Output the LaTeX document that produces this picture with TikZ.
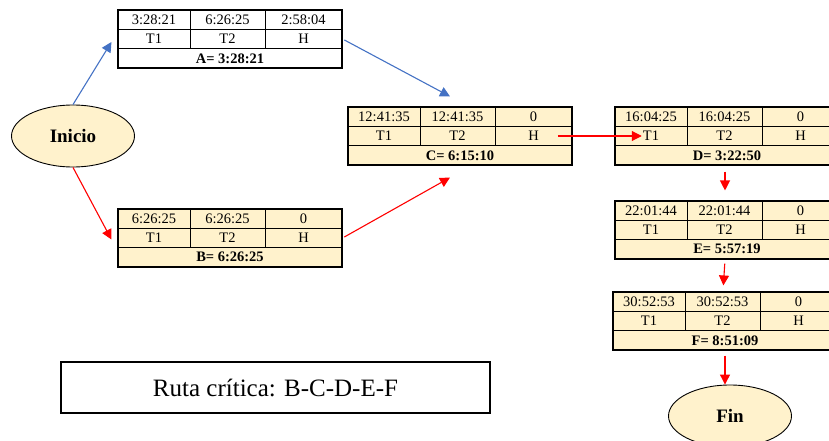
\documentclass[tikz,border=0pt]{standalone}
\usepackage{fontspec}
\setmainfont{Liberation Serif}
\usetikzlibrary{arrows.meta,shapes.geometric}

\definecolor{crema}{HTML}{FFF2CC}
\definecolor{azul}{HTML}{4472C4}

\begin{document}
\begin{tikzpicture}[x=1pt, y=-1pt,
    caja/.style={draw, line width=1.1pt, minimum width=224pt, minimum height=58pt, inner sep=0pt},
    celda/.style={inner sep=1pt, font=\fontsize{14.5}{16}\selectfont},
    inicfin/.style={ellipse, draw, line width=0.9pt, fill=crema, minimum width=123pt, minimum height=62pt, font=\fontsize{19}{22}\selectfont\bfseries},
    flecha/.style={line width=1.1pt, -{Triangle[length=10pt,width=10pt]}},
    roja/.style={flecha, red},
    azulf/.style={flecha, azul}]
    \useasboundingbox (0,0) rectangle (829,441);
    \clip (0,0) rectangle (829,441);

    % Inicio y Fin
    \node[inicfin] (inicio) at (73,136) {Inicio};
    \node[inicfin] (fin) at (730,416) {Fin};

    % Tablas de actividades
    \foreach \n/\x/\y/\a/\b/\c/\l/\f in {
        A/118/10/3:28:21/6:26:25/2:58:04/A= 3:28:21/white,
        B/118/209/6:26:25/6:26:25/0/B= 6:26:25/crema,
        C/348/107/12:41:35/12:41:35/0/C= 6:15:10/crema,
        D/615/107/16:04:25/16:04:25/0/D= 3:22:50/crema,
        E/615/201/22:01:44/22:01:44/0/E= 5:57:19/crema,
        F/613/292/30:52:53/30:52:53/0/F= 8:51:09/crema}{
        \node[caja, fill=\f] (\n) at ({\x+112},{\y+29}) {};
        \draw[line width=0.9pt] (\x,{\y+19.3}) -- ({\x+224},{\y+19.3})
            (\x,{\y+38.6}) -- ({\x+224},{\y+38.6})
            ({\x+72},\y) -- ({\x+72},{\y+38.6})
            ({\x+147},\y) -- ({\x+147},{\y+38.6});
        \node[celda] (\n-a) at ({\x+36},{\y+9.65}) {\a};
        \node[celda] (\n-b) at ({\x+109.5},{\y+9.65}) {\b};
        \node[celda] (\n-c) at ({\x+185.5},{\y+9.65}) {\c};
        \node[celda] (\n-t1) at ({\x+36},{\y+29}) {T1};
        \node[celda] (\n-t2) at ({\x+109.5},{\y+29}) {T2};
        \node[celda] (\n-h) at ({\x+185.5},{\y+29}) {H};
        \node[celda, font=\fontsize{14.5}{16}\selectfont\bfseries] (\n-l) at ({\x+112},{\y+48.3}) {\l};
    }

    % Ruta critica
    \node[draw, line width=1.1pt, minimum width=429pt, minimum height=51pt,
        font=\fontsize{25}{28}\selectfont] (ruta) at (275.5,387.5) {Ruta crítica: B-C-D-E-F};

    % Conexiones
    \draw[azulf] (inicio.north) -- ([xshift=-6pt,yshift=-3pt]A.west);
    \draw[roja] (inicio.south) -- ([xshift=-6pt,yshift=-1.5pt]B.west);
    \draw[azulf, shorten <=2pt] (A.east) -- ([xshift=-10pt,yshift=10pt]C.north);
    \draw[roja, shorten <=2pt] (B.east) -- ([xshift=-10pt,yshift=-12pt]C.south);
    \draw[roja] ([xshift=18pt]C-h.east) -- (D-t1.west);
    \draw[roja, shorten <=6pt, shorten >=10pt] ([xshift=-2pt]D.south) -- ([xshift=-2pt]E.north);
    \draw[roja, shorten <=4pt, shorten >=6pt] ([xshift=-2pt]E.south) -- ([xshift=-2pt]F.north);
    \draw[roja, shorten <=5pt] (F.south) -- (F.south |- fin.north);
\end{tikzpicture}
\end{document}
